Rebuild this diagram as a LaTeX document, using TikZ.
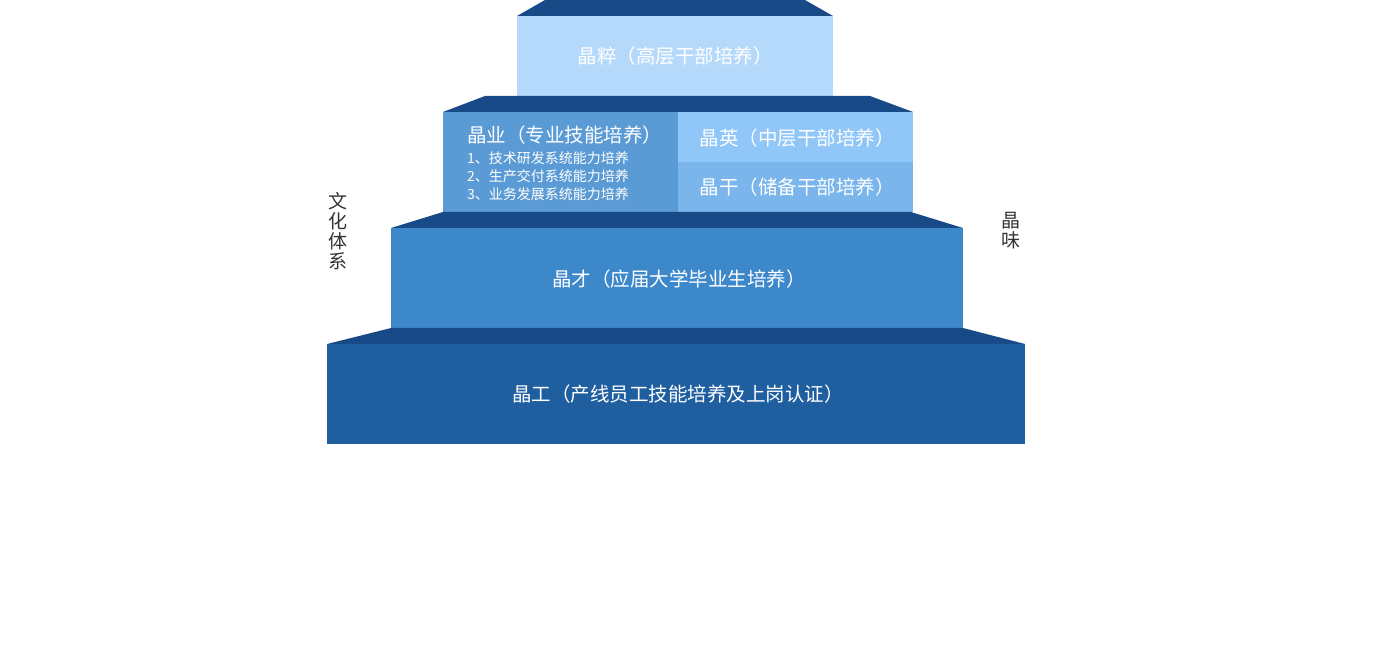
\documentclass[tikz,border=0pt]{standalone}
\usepackage{fontspec}
\setmainfont{Noto Sans CJK SC}
\definecolor{capc}{HTML}{174A87}
\definecolor{t1}{HTML}{B5D9FA}
\definecolor{t2a}{HTML}{5B9BD5}
\definecolor{t2b}{HTML}{91C6F8}
\definecolor{t2c}{HTML}{7AB5EC}
\definecolor{t3}{HTML}{3D88CB}
\definecolor{t4}{HTML}{1F5FA0}
\definecolor{side}{HTML}{333333}
\begin{document}
\begin{tikzpicture}[x=1pt,y=-1pt,
  lbl/.style={text=white,font=\fontsize{19.5}{19.5}\selectfont,inner sep=0pt},
  sub/.style={text=white,font=\fontsize{14}{14}\selectfont,inner sep=0pt,anchor=west},
  sidelbl/.style={text=side,font=\fontsize{19}{20}\selectfont,align=center,inner sep=0pt}]
\useasboundingbox (0,0) rectangle (1377,652);
% tier 1
\fill[capc] (545,0) -- (805,0) -- (833,16) -- (517,16) -- cycle;
\fill[t1] (517,16) rectangle (833,96);
% tier 2
\fill[capc] (485,96) -- (870,96) -- (913,112) -- (443,112) -- cycle;
\fill[t2a] (443,112) rectangle (678,212);
\fill[t2b] (678,112) rectangle (913,162);
\fill[t2c] (678,162) rectangle (913,212);
% tier 3
\fill[capc] (443,212) -- (911,212) -- (963,228) -- (391,228) -- cycle;
\fill[t3] (391,228) rectangle (963,328);
% tier 4
\fill[capc] (391,328) -- (963,328) -- (1025,344) -- (327,344) -- cycle;
\fill[t4] (327,344) rectangle (1025,444);
% labels
\node[lbl] (cui) at (675,56) {晶粹（高层干部培养）};
\node[lbl,anchor=west] (ye) at (467,135) {晶业（专业技能培养）};
\node[sub] (ye1) at (467,158) {1、技术研发系统能力培养};
\node[sub] (ye2) at (467,176) {2、生产交付系统能力培养};
\node[sub] (ye3) at (467,194) {3、业务发展系统能力培养};
\node[lbl] (ying) at (797,138) {晶英（中层干部培养）};
\node[lbl] (gan) at (797,187) {晶干（储备干部培养）};
\node[lbl] (cai) at (679,279) {晶才（应届大学毕业生培养）};
\node[lbl] (gong) at (678,394) {晶工（产线员工技能培养及上岗认证）};
\node[sidelbl] (wh) at (338,231) {文\\化\\体\\系};
\node[sidelbl] (wei) at (1011,231) {晶\\味};
\end{tikzpicture}
\end{document}
